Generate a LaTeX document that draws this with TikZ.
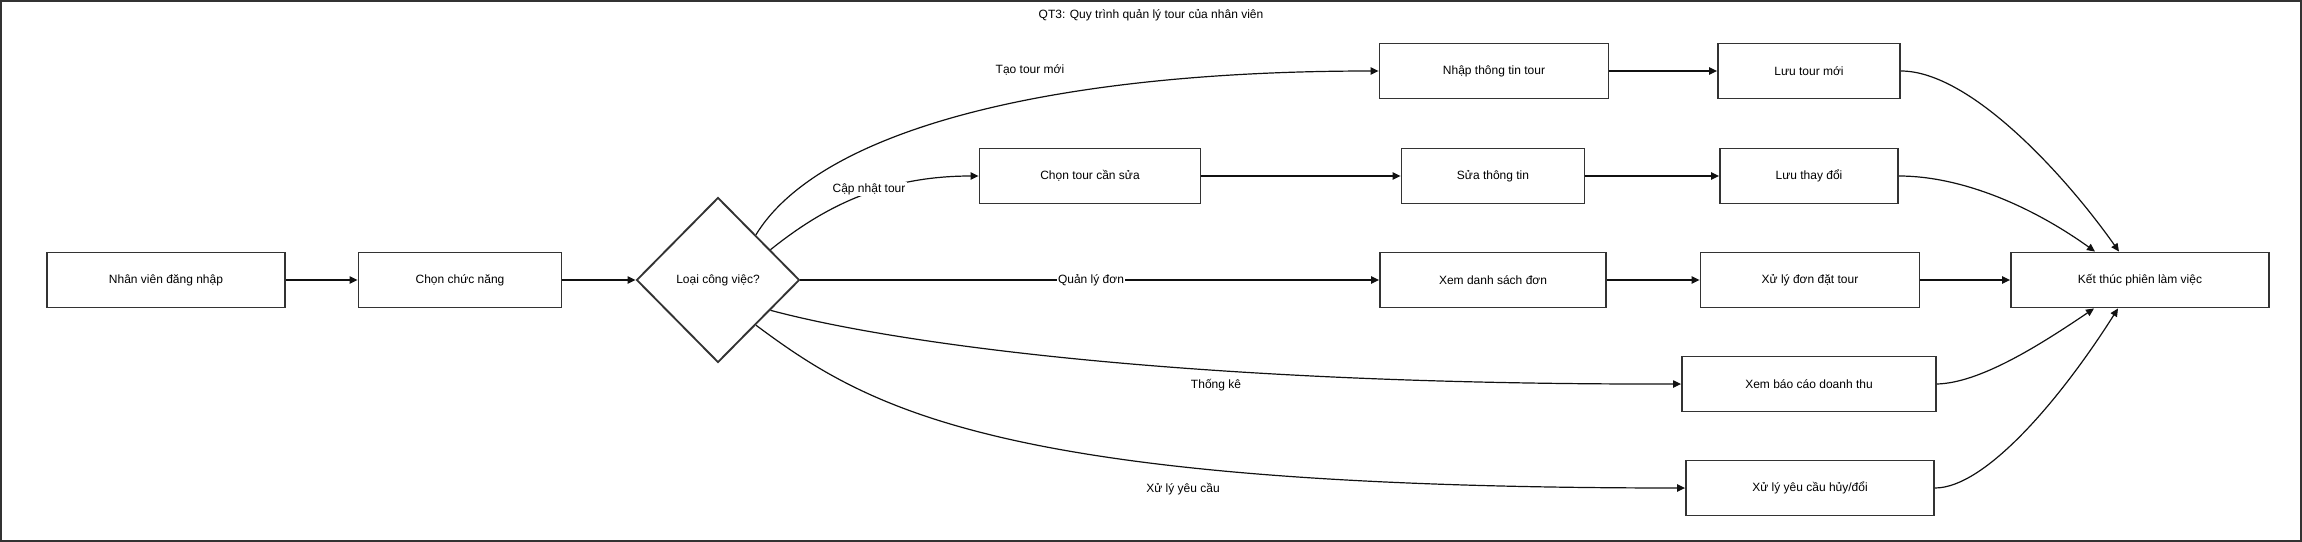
\documentclass[tikz,border=0pt]{standalone}
\usepackage{fontspec}
\setmainfont{Liberation Sans}
\usetikzlibrary{arrows.meta,positioning,shapes.geometric,calc}
\definecolor{TourDark}{HTML}{333333}
\definecolor{TourLine}{HTML}{111111}
\tikzset{
  taskbox/.style={draw=TourDark,line width=1.4pt,fill=white,align=center,minimum height=41.25pt,inner sep=2pt,font=\fontsize{9pt}{11pt}\selectfont},
  choicebox/.style={diamond,draw=TourDark,line width=1.4pt,fill=white,inner sep=0pt,minimum width=122.25pt,minimum height=123.75pt,font=\fontsize{9pt}{11pt}\selectfont},
  flowarrow/.style={-{Triangle[length=6pt,width=5.5pt]},line width=0.9pt,draw=TourLine},
  edgelabel/.style={fill=white,inner sep=1pt,font=\fontsize{9pt}{11pt}\selectfont},
  frameline/.style={draw=TourDark,line width=1.5pt}
}
\begin{document}
\begin{tikzpicture}[x=0.75pt,y=-0.75pt]
\useasboundingbox (0,0) rectangle (2302,542);
\draw[frameline] (1,1) rectangle (2301,541);
\node[font=\fontsize{9pt}{11pt}\selectfont] (title) at (1151,15) {QT3: Quy trình quản lý tour của nhân viên};
% main line
\node[taskbox,minimum width=178.5pt] (login) at (166,280) {Nhân viên đăng nhập};
\node[taskbox,minimum width=152.25pt] (func) at (460,280) {Chọn chức năng};
\node[choicebox] (kind) at (718,280) {Loại công việc?};
% branches
\node[taskbox,minimum width=171.75pt] (input) at (1494,71) {Nhập thông tin tour};
\node[taskbox,minimum width=136.5pt] (savenew) at (1809,71) {Lưu tour mới};
\node[taskbox,minimum width=165.75pt] (pick) at (1090,176) {Chọn tour cần sửa};
\node[taskbox,minimum width=137.25pt] (edit) at (1493,176) {Sửa thông tin};
\node[taskbox,minimum width=133.5pt] (savechg) at (1809,176) {Lưu thay đổi};
\node[taskbox,minimum width=169.5pt] (orders) at (1493,280) {Xem danh sách đơn};
\node[taskbox,minimum width=164.25pt] (handle) at (1810,280) {Xử lý đơn đặt tour};
\node[taskbox,minimum width=190.5pt] (report) at (1809,384) {Xem báo cáo doanh thu};
\node[taskbox,minimum width=186pt] (cancel) at (1810,488) {Xử lý yêu cầu hủy/đổi};
\node[taskbox,minimum width=193.5pt] (finish) at (2140,280) {Kết thúc phiên làm việc};
% connectors
\draw[flowarrow] (login) -- (func);
\draw[flowarrow] (func) -- (kind);
\draw[flowarrow] (kind.50) .. controls (820,130) and (1050,71) .. (input.west);
\draw[flowarrow] (kind.30) .. controls (820,210) and (880,176) .. (pick.west);
\draw[flowarrow] (kind.east) -- (orders.west);
\draw[flowarrow] (kind.-30) .. controls (900,345) and (1200,385) .. (report.west);
\draw[flowarrow] (kind.-50) .. controls (870,410) and (1000,488) .. (cancel.west);
\draw[flowarrow] (input) -- (savenew);
\draw[flowarrow] (pick) -- (edit);
\draw[flowarrow] (edit) -- (savechg);
\draw[flowarrow] (orders) -- (handle);
\draw[flowarrow] (handle) -- (finish);
\draw[flowarrow] (savenew.east) .. controls (1970,71) and (2065,175) .. ([xshift=-15.75pt]finish.north);
\draw[flowarrow] (savechg.east) .. controls (1960,176) and (2030,205) .. ([xshift=-33.75pt]finish.north);
\draw[flowarrow] (report.east) .. controls (1980,383) and (2040,345) .. ([xshift=-34.5pt]finish.south);
\draw[flowarrow] (cancel.east) .. controls (1985,488) and (2060,400) .. ([xshift=-16.5pt]finish.south);
% labels
\node[edgelabel] (lbnew) at (1030,70) {Tạo tour mới};
\node[edgelabel] (lbupd) at (869,189) {Cập nhật tour};
\node[edgelabel] (lbord) at (1091,280) {Quản lý đơn};
\node[edgelabel,fill=none] (lbstat) at (1216,385) {Thống kê};
\node[edgelabel,fill=none] (lbreq) at (1183,489) {Xử lý yêu cầu};
\end{tikzpicture}
\end{document}
